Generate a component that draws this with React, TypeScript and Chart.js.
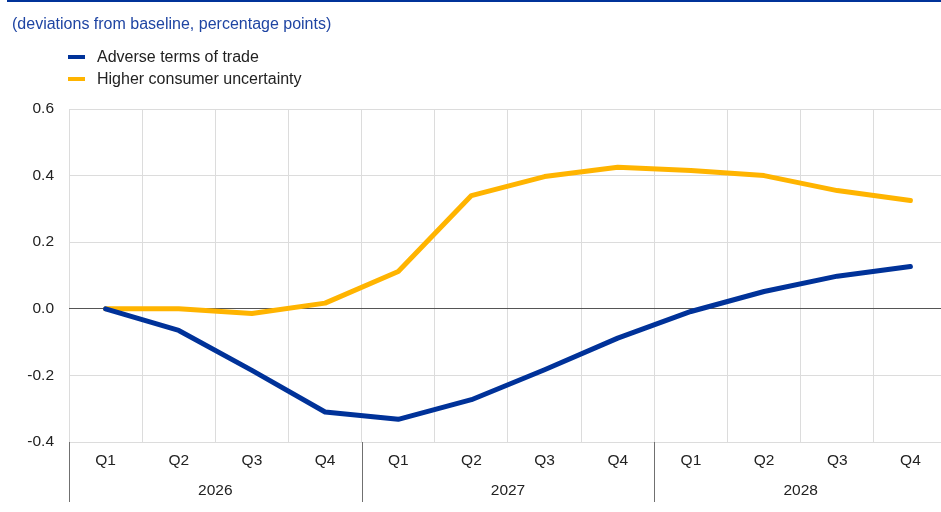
import React, { useEffect, useRef } from "react";
import { Chart, registerables } from "chart.js";

Chart.register(...registerables);

// Quarterly horizon and the two scenario paths (deviation from baseline, pp)
const quarters = ["Q1", "Q2", "Q3", "Q4", "Q1", "Q2", "Q3", "Q4", "Q1", "Q2", "Q3", "Q4"];
const years = ["2026", "2027", "2028"];
const adverseTermsOfTrade = [0, -0.065, -0.185, -0.31, -0.332, -0.273, -0.183, -0.088, -0.008, 0.052, 0.098, 0.127];
const higherConsumerUncertainty = [0, 0, -0.014, 0.017, 0.112, 0.34, 0.397, 0.425, 0.415, 0.4, 0.355, 0.325];
const yTicks = [-0.4, -0.2, 0, 0.2, 0.4, 0.6];

const seriesNames = ["Adverse terms of trade", "Higher consumer uncertainty"];
const seriesColors = ["#003299", "#FFB400"];
const subtitle = "(deviations from baseline, percentage points)";

const FONT = "'Liberation Sans', Arial, sans-serif";
const AXIS_FONT_SIZE = 15.5;

const decorations = {
  id: "decorations",
  afterDraw(chart: any) {
    const { ctx, chartArea, scales } = chart;
    const x = scales.x;
    ctx.save();

    // top rule
    ctx.fillStyle = "#003299";
    ctx.fillRect(7, 0, chart.width, 2);

    // subtitle
    ctx.font = `16px ${FONT}`;
    ctx.textBaseline = "middle";
    ctx.textAlign = "left";
    ctx.fillStyle = "#1F45A3";
    ctx.fillText(subtitle, 12, 25);

    // legend
    seriesNames.forEach((name, i) => {
      const y = 57 + i * 22;
      ctx.fillStyle = seriesColors[i];
      ctx.fillRect(68, y - 2, 17, 4);
      ctx.fillStyle = "#222";
      ctx.fillText(name, 97, y + 1);
    });

    // quarter labels
    ctx.font = `${AXIS_FONT_SIZE}px ${FONT}`;
    ctx.textAlign = "center";
    ctx.fillStyle = "#222";
    quarters.forEach((q, i) => {
      ctx.fillText(q, x.getPixelForValue(i), chartArea.bottom + 19);
    });

    // year labels and separators
    const step = (chartArea.right - chartArea.left) / quarters.length;
    years.forEach((yr, k) => {
      const start = chartArea.left + k * 4 * step;
      ctx.fillText(yr, start + 2 * step, chartArea.bottom + 49);
    });
    ctx.strokeStyle = "#707070";
    ctx.lineWidth = 1;
    for (let k = 0; k < years.length; k++) {
      const sx = Math.round(chartArea.left + k * 4 * step) + 0.5;
      ctx.beginPath();
      ctx.moveTo(sx, chartArea.bottom);
      ctx.lineTo(sx, chartArea.bottom + 60);
      ctx.stroke();
    }
    ctx.restore();
  },
};

export default function App() {
  const ref = useRef<HTMLCanvasElement | null>(null);

  useEffect(() => {
    if (!ref.current) return;
    const chart = new Chart(ref.current, {
      type: "line",
      data: {
        labels: quarters.map((q, i) => `${years[Math.floor(i / 4)]} ${q}`),
        datasets: [
          {
            label: seriesNames[0],
            data: adverseTermsOfTrade,
            borderColor: seriesColors[0],
            backgroundColor: seriesColors[0],
            borderWidth: 5,
            pointRadius: 0,
            tension: 0,
            borderJoinStyle: "round",
            borderCapStyle: "round",
          },
          {
            label: seriesNames[1],
            data: higherConsumerUncertainty,
            borderColor: seriesColors[1],
            backgroundColor: seriesColors[1],
            borderWidth: 5,
            pointRadius: 0,
            tension: 0,
            borderJoinStyle: "round",
            borderCapStyle: "round",
          },
        ],
      },
      options: {
        responsive: false,
        animation: false,
        devicePixelRatio: 1,
        layout: { padding: { top: 109, right: 3, left: 0, bottom: 0 } },
        plugins: {
          legend: { display: false },
          title: { display: false },
          tooltip: { enabled: false },
        },
        scales: {
          x: {
            type: "category",
            offset: true,
            grid: { offset: true, color: "#dcdcdc", drawTicks: false },
            border: { display: false },
            ticks: { display: false },
            afterFit(scale: any) {
              scale.height = 70;
            },
          },
          y: {
            min: -0.4,
            max: 0.6,
            afterBuildTicks(scale: any) {
              scale.ticks = yTicks.map((v) => ({ value: v }));
            },
            ticks: {
              padding: 15,
              color: "#222",
              font: { family: FONT, size: AXIS_FONT_SIZE },
              callback: (v: any) => Number(v).toFixed(1),
            },
            grid: {
              drawTicks: false,
              color: (c: any) => (Math.abs(c.tick.value) < 1e-9 ? "#555555" : "#dcdcdc"),
            },
            border: { display: false },
            afterFit(scale: any) {
              scale.width = 69;
            },
          },
        },
      },
      plugins: [decorations],
    });
    return () => chart.destroy();
  }, []);

  return (
    <div
      style={{
        position: "fixed",
        left: 0,
        top: 0,
        width: 941,
        height: 512,
        overflow: "hidden",
        background: "#fff",
      }}
    >
      <canvas ref={ref} width={950} height={512} style={{ display: "block", width: 950, height: 512 }} />
    </div>
  );
}
